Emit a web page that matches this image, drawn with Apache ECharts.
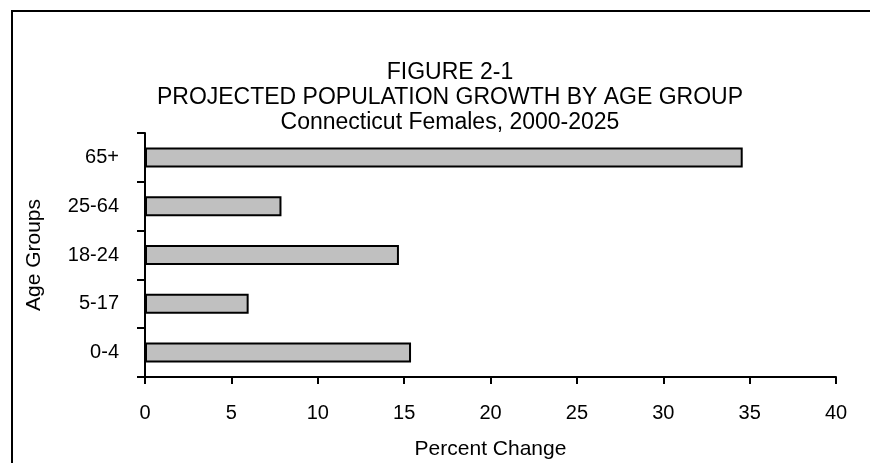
<!DOCTYPE html>
<html>
<head>
<meta charset="utf-8">
<script src="https://cdn.jsdelivr.net/npm/echarts@6/dist/echarts.min.js"></script>
<style>
  html, body { margin: 0; padding: 0; background: #fff; }
  #chart { width: 870px; height: 463px; }
</style>
</head>
<body>
<div id="chart"></div>
<script>
// Age groups, bottom to top
const ageGroups = ['0-4', '5-17', '18-24', '25-64', '65+'];
// Projected percent change in female population, 2000-2025
const percentChange = [15.4, 6.0, 14.7, 7.9, 34.6];
// Title lines
const titleLines = ['FIGURE 2-1', 'PROJECTED POPULATION GROWTH BY AGE GROUP', 'Connecticut Females, 2000-2025'];

const FONT = '"Liberation Sans", Arial, sans-serif';
const chart = echarts.init(document.getElementById('chart'), null, { renderer: 'canvas' });

chart.setOption({
  animation: false,
  backgroundColor: '#fff',
  textStyle: { fontFamily: FONT },
  graphic: [
    {
      type: 'rect',
      shape: { x: 12, y: 11, width: 880, height: 480 },
      style: { fill: 'none', stroke: '#000', lineWidth: 2 },
      silent: true
    },
    ...titleLines.map((t, i) => ({
      type: 'text',
      x: 450,
      y: 73 + i * 25,
      style: {
        text: t,
        fill: '#000',
        font: '23px ' + FONT,
        textAlign: 'center',
        textVerticalAlign: 'middle'
      }
    }))
  ],
  grid: {
    left: 145, right: 34, top: 133, bottom: 86,
    containLabel: false,
    outerBoundsMode: 'none'
  },
  xAxis: {
    type: 'value',
    min: 0,
    max: 40,
    interval: 5,
    name: 'Percent Change',
    nameLocation: 'middle',
    nameGap: 62,
    nameTextStyle: { fontSize: 21, color: '#000', fontFamily: FONT },
    axisLine: { show: true, lineStyle: { color: '#000', width: 2 } },
    axisTick: { show: true, length: 7, inside: false, lineStyle: { color: '#000', width: 2 } },
    axisLabel: { fontSize: 20, color: '#000', margin: 26, fontFamily: FONT },
    splitLine: { show: false }
  },
  yAxis: {
    type: 'category',
    data: ageGroups,
    name: 'Age Groups',
    nameLocation: 'middle',
    nameGap: 100,
    nameRotate: 90,
    nameTextStyle: { fontSize: 21, color: '#000', fontFamily: FONT },
    axisLine: { show: true, lineStyle: { color: '#000', width: 2 } },
    axisTick: { show: true, length: 8, alignWithLabel: false, lineStyle: { color: '#000', width: 2 } },
    axisLabel: { fontSize: 20, color: '#000', margin: 26, fontFamily: FONT },
    splitLine: { show: false }
  },
  series: [{
    type: 'bar',
    data: percentChange,
    barWidth: 20,
    itemStyle: { color: '#c0c0c0', borderColor: '#000', borderWidth: 2 }
  }]
});
</script>
</body>
</html>
